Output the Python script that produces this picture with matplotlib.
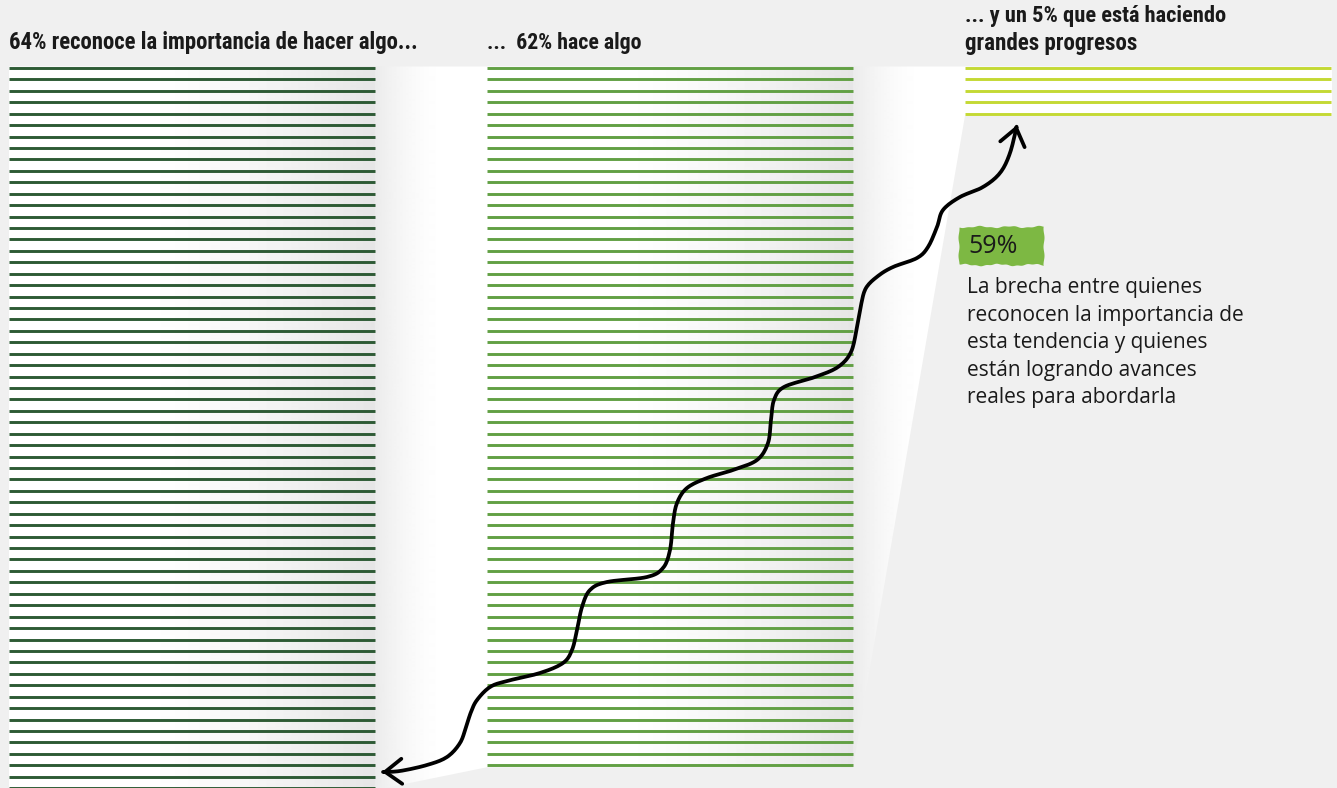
import os
import numpy as np
import matplotlib.pyplot as plt
from matplotlib import font_manager as fm
from matplotlib.path import Path
from matplotlib.patches import Polygon, FancyArrowPatch

# --- data ---
shares = [64, 62, 5]
title_lines = [
    ["64% reconoce la importancia de hacer algo..."],
    ["...  62% hace algo"],
    ["... y un 5% que está haciendo", "grandes progresos"],
]
line_colors = ["#2d5a34", "#62a044", "#c4d934"]
gap_value = shares[0] - shares[2]
gap_label = f"{gap_value}%"
gap_lines = ["La brecha entre quienes",
             "reconocen la importancia de",
             "esta tendencia y quienes",
             "están logrando avances",
             "reales para abordarla"]

# --- layout (pixels) ---
W, H = 1337, 788
col_left = [9, 487, 965]
col_width = 366
top = 68
step = 11.43


def condensed_bold():
    # look for a narrow bold face among the installed fonts
    prefs = ["RobotoCondensed", "NotoSans", "LiberationSansNarrow", "DejaVuSansCondensed", "OpenSans"]
    found = {}
    for f in fm.fontManager.ttflist:
        base = os.path.basename(f.fname).replace("-", "").replace("_", "")
        if "Italic" in base or "Oblique" in base or "Extra" in base or "Semi" in base:
            continue
        if not (("Condensed" in base or "Narrow" in base) and "Bold" in base):
            continue
        for p in prefs:
            if base.startswith(p):
                found.setdefault(p, f.fname)
    for p in prefs:
        if p in found:
            return fm.FontProperties(fname=found[p])
    return fm.FontProperties(family=["Roboto", "DejaVu Sans"], weight="bold")


fig = plt.figure(figsize=(W / 100, H / 100), dpi=100)
fig.patch.set_facecolor("#f0f0f0")
ax = fig.add_axes([0, 0, 1, 1])
ax.set_xlim(0, W)
ax.set_ylim(H, 0)
ax.axis("off")

# white funnel behind the columns, with soft grey shading
bottoms = [top + (n - 1) * step + 2 for n in shares]
right_end = col_left[2] + col_width + 1
verts = [(col_left[0], top - 1.5), (right_end, top - 1.5),
         (right_end, bottoms[2]), (col_left[2], bottoms[2]),
         (col_left[1] + col_width, bottoms[1]), (col_left[1], bottoms[1]),
         (col_left[0] + col_width, bottoms[0]), (col_left[0], bottoms[0])]
funnel = Polygon(verts, closed=True, facecolor="none", edgecolor="none")
ax.add_patch(funnel)

xs = np.arange(W) + 0.5
shade = np.ones(W)
for x0 in col_left[:2]:
    x1 = x0 + col_width
    inside = (xs >= x0) & (xs < x1)
    t = np.clip((xs - x0 - 0.35 * col_width) / (0.65 * col_width), 0, 1)
    shade[inside] = 1 - 0.10 * t[inside] ** 1.4
    after = (xs >= x1) & (xs < x1 + 75)
    u = (xs[after] - x1) / 75
    shade[after] = 1 - 0.08 * (1 - u) ** 1.8
img = np.tile(shade, (2, 1))
im = ax.imshow(img, cmap="gray", vmin=0, vmax=1, extent=[0, W, H, 0],
               aspect="auto", interpolation="bilinear", zorder=1)
im.set_clip_path(funnel)

# one line per percentage point
for x0, n, c in zip(col_left, shares, line_colors):
    ys = top + step * np.arange(n)
    ax.hlines(ys, x0, x0 + col_width, colors=c, lw=2.1, zorder=3)

# titles
title_fp = condensed_bold()
title_targets = [[411], [155], [262, 172]]
title_base = [[49], [49], [22, 50]]
renderer = fig.canvas.get_renderer()
for x0, lines, widths, bases in zip(col_left, title_lines, title_targets, title_base):
    for txt, tw, yb in zip(lines, widths, bases):
        t = ax.text(x0, yb, txt, fontproperties=title_fp.copy(), fontsize=17,
                    color="#1a1a1a", ha="left", va="baseline", zorder=6)
        w = t.get_window_extent(renderer).width
        t.set_fontsize(17 * tw / w)

# stepped double arrow
way = [(382, 772), (400, 771), (427, 765), (447, 757), (460, 743), (466, 727),
       (471, 712), (477, 700), (490, 687), (507, 681), (540, 673), (563, 663),
       (572, 650), (577, 630), (582, 607), (590, 590), (607, 582), (647, 577),
       (663, 568), (670, 550), (673, 523), (677, 503), (687, 488), (707, 478),
       (733, 470), (757, 460), (768, 443), (771, 420), (774, 400), (784, 387),
       (815, 377), (838, 367), (851, 352), (857, 327), (861, 305), (866, 288),
       (878, 276), (893, 267), (917, 258), (928, 247), (937, 227), (943, 210),
       (960, 197), (983, 187), (1000, 173), (1010, 153), (1017, 125)]


def catmull_rom(pts, n=10):
    p = np.asarray(pts, float)
    p = np.vstack([p[0], p, p[-1]])
    out = []
    t = np.linspace(0, 1, n, endpoint=False)[:, None]
    for i in range(1, len(p) - 2):
        p0, p1, p2, p3 = p[i - 1], p[i], p[i + 1], p[i + 2]
        out.append(0.5 * (2 * p1 + (-p0 + p2) * t + (2 * p0 - 5 * p1 + 4 * p2 - p3) * t ** 2
                          + (-p0 + 3 * p1 - 3 * p2 + p3) * t ** 3))
    out.append(p[-2][None])
    return np.vstack(out)


curve = catmull_rom(way)
arrow = FancyArrowPatch(path=Path(curve), arrowstyle="<->,head_length=0.6,head_width=0.45",
                        mutation_scale=20, lw=2.7, color="black", zorder=7,
                        capstyle="round", joinstyle="round")
ax.add_patch(arrow)

# 59% badge (slightly brushed edges) and explanation
bx0, by0, bx1, by1 = 959, 227, 1044, 265
ex = np.linspace(bx0, bx1, 120)
ey = np.linspace(by0, by1, 40)
wob_top = 0.8 * np.sin(ex * 0.21) + 0.4 * np.sin(ex * 0.53 + 0.7)
wob_bot = 0.9 * np.sin(ex * 0.18 + 1.0) + 0.4 * np.sin(ex * 0.61)
wob_side = 0.5 * np.sin(ey * 0.35)
badge_pts = np.vstack([
    np.column_stack([ex, by0 + wob_top]),
    np.column_stack([bx1 + wob_side, ey]),
    np.column_stack([ex[::-1], by1 + wob_bot[::-1]]),
    np.column_stack([bx0 - wob_side[::-1], ey[::-1]]),
])
ax.add_patch(Polygon(badge_pts, closed=True, facecolor="#7db843", edgecolor="none", zorder=5))
body_font = ["Open Sans", "DejaVu Sans"]
ax.text(968, 253, gap_label, fontsize=18, family=body_font, color="#1a1a1a",
        ha="left", va="baseline", zorder=6)
for i, line in enumerate(gap_lines):
    ax.text(967, 293 + i * 27.5, line, fontsize=15, family=body_font, color="#1a1a1a",
            ha="left", va="baseline", zorder=6)

fig.savefig("out.png", dpi=100, facecolor=fig.get_facecolor())
